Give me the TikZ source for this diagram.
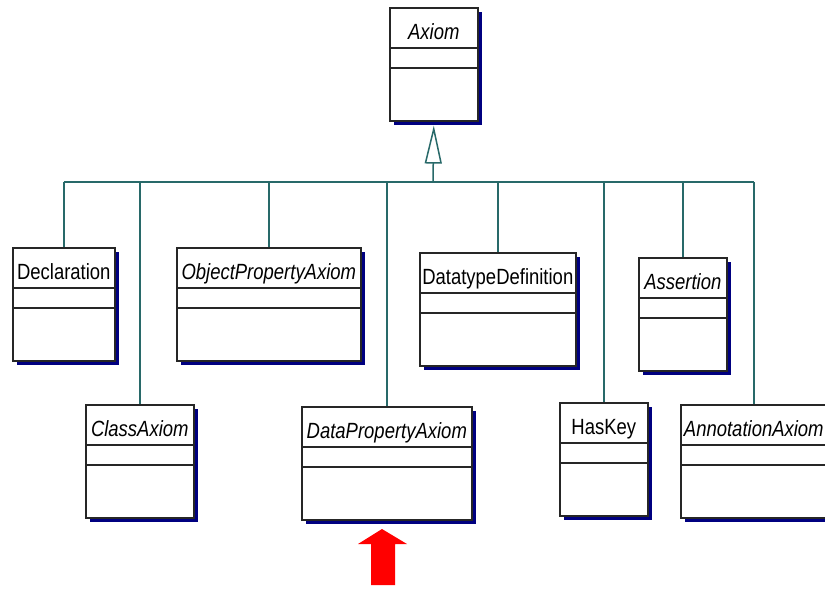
\documentclass[tikz,border=0pt]{standalone}
\usepackage{fontspec}
\setmainfont{Liberation Sans}[FakeStretch=0.84]
\usetikzlibrary{arrows.meta,calc}

\definecolor{linkteal}{RGB}{40,105,105}
\definecolor{shadownavy}{RGB}{0,0,128}

\tikzset{
	classbox/.style={draw=black!85, line width=1.6pt, fill=white, minimum height=113pt, inner sep=0pt, anchor=north west},
	classsep/.style={draw=black!85, line width=1.6pt},
	classshadow/.style={fill=shadownavy},
	classname/.style={font=\fontsize{22}{26}\selectfont, inner sep=0pt, anchor=base},
	conn/.style={draw=linkteal, line width=1.5pt},
}

% name, x, y, width, text
\newcommand{\umlclass}[5]{
	\fill[classshadow] (#2+5,#3+5) rectangle ++(#4,113);
	\node[classbox, minimum width=#4] (#1) at (#2,#3) {};
	\draw[classsep] ($(#1.north west)+(0,41)$) -- ($(#1.north east)+(0,41)$);
	\draw[classsep] ($(#1.north west)+(0,61)$) -- ($(#1.north east)+(0,61)$);
	\node[classname] (#1-name) at ($(#1.north)+(0,32)$) {#5};
}

\begin{document}
\begin{tikzpicture}[x=1pt, y=-1pt]
	\clip (0,0) rectangle (825,589);
	\fill[white] (0,0) rectangle (825,589);

	\umlclass{axiom}{389}{7}{88}{\textit{Axiom}}
	\umlclass{decl}{12}{247}{102}{Declaration}
	\umlclass{objprop}{176}{247}{184}{\textit{ObjectPropertyAxiom}}
	\umlclass{dtdef}{419}{252}{156}{DatatypeDefinition}
	\umlclass{assert}{638}{257}{88}{\textit{Assertion}}
	\umlclass{classax}{85}{404}{108}{\textit{ClassAxiom}}
	\umlclass{dataprop}{301}{406}{170}{\textit{DataPropertyAxiom}}
	\umlclass{haskey}{559}{402}{88}{HasKey}
	\umlclass{annot}{680}{404}{146}{\textit{AnnotationAxiom}}

	\coordinate (bus) at (433,182);
	\foreach \c in {decl,classax,objprop,dataprop,dtdef,haskey,assert,annot}{
		\draw[conn] (\c.north) -- (\c.north |- bus);
	}
	\draw[conn] (decl.north |- bus) -- (annot.north |- bus);
	\draw[conn, -{Triangle[open, length=38pt, width=17pt]}] (bus) -- ($(axiom.south)+(0,4)$);

	% pointer
	\fill[red] (382,529) -- (407,544) -- (395,544) -- (395,585) -- (371,585) -- (371,544) -- (358,544) -- cycle;
\end{tikzpicture}
\end{document}
